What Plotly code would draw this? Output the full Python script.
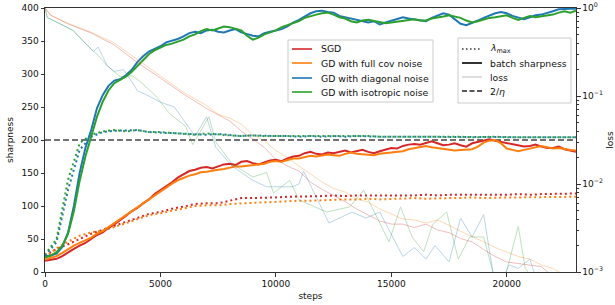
import plotly.graph_objects as go

# ---------------- data ----------------
batch_steps = list(range(0, 23001, 250))
lmax_steps = list(range(0, 23001, 500))

# batch sharpness (solid)
sgd_batch = [17, 18, 20, 24, 30, 35, 40, 44, 50, 56,
             60, 67, 72, 78, 85, 92, 97, 104, 110, 118,
             124, 129, 136, 143, 148, 153, 155, 158, 159, 157,
             160, 163, 164, 162, 167, 168, 165, 163, 166, 169,
             170, 168, 172, 175, 176, 180, 182, 179, 178, 181,
             180, 182, 184, 181, 183, 185, 182, 180, 183, 186,
             188, 187, 191, 193, 194, 193, 196, 198, 195, 192,
             193, 195, 192, 190, 195, 197, 199, 201, 199, 197,
             195, 194, 192, 190, 191, 193, 190, 188, 188, 190,
             186, 184, 182]
full_batch = [19, 21, 24, 29, 35, 40, 44, 48, 52, 58,
              62, 68, 74, 80, 86, 93, 99, 105, 111, 117,
              123, 128, 134, 139, 143, 146, 148, 151, 152, 154,
              155, 156, 158, 160, 160, 161, 162, 163, 164, 167,
              168, 167, 170, 172, 172, 174, 176, 175, 176, 178,
              177, 176, 179, 181, 179, 178, 178, 177, 179, 180,
              181, 182, 183, 186, 188, 190, 191, 189, 188, 187,
              186, 184, 185, 186, 186, 190, 196, 199, 200, 195,
              187, 185, 183, 185, 187, 190, 191, 189, 187, 188,
              186, 185, 184]
diag_batch = [24, 25, 28, 38, 60, 100, 150, 188, 215, 248,
              268, 282, 290, 292, 298, 306, 318, 327, 334, 338,
              342, 348, 350, 353, 357, 362, 364, 362, 366, 367,
              364, 363, 366, 368, 363, 360, 358, 357, 362, 364,
              366, 368, 372, 378, 382, 387, 392, 395, 396, 394,
              393, 388, 386, 383, 381, 379, 378, 380, 375, 378,
              381, 384, 386, 384, 383, 381, 380, 385, 389, 392,
              390, 383, 376, 374, 377, 381, 385, 389, 392, 394,
              392, 388, 385, 383, 386, 389, 390, 392, 395, 398,
              399, 399, 399]
iso_batch = [22, 25, 30, 40, 58, 92, 138, 175, 205, 235,
             258, 275, 286, 291, 296, 303, 312, 322, 330, 336,
             340, 344, 346, 349, 352, 357, 360, 365, 368, 366,
             369, 372, 371, 369, 366, 358, 352, 355, 360, 363,
             366, 371, 374, 376, 380, 385, 388, 390, 392, 393,
             390, 386, 384, 380, 378, 381, 382, 380, 379, 377,
             378, 379, 380, 382, 383, 381, 381, 384, 385, 387,
             389, 387, 385, 381, 378, 380, 383, 385, 386, 388,
             389, 385, 382, 385, 388, 386, 387, 389, 390, 393,
             395, 393, 396]

# lambda_max (dotted)
sgd_lmax = [25, 35, 42, 50, 58, 64, 70, 76, 82, 88, 91, 96, 99, 103, 104, 104, 108, 112, 112, 112,
            113, 114, 114, 115, 115, 116, 115, 116, 116, 115, 115, 116, 116, 117, 116, 117, 117, 117,
            116, 117, 117, 118, 117, 118, 118, 119, 119]
full_lmax = [22, 36, 46, 55, 60, 63, 68, 74, 80, 86, 89, 93, 96, 100, 101, 101, 103, 104, 105, 106,
             106, 107, 108, 108, 109, 109, 110, 110, 111, 110, 111, 111, 112, 111, 112, 112, 112, 113,
             112, 113, 113, 113, 113, 114, 113, 114, 114]
diag_lmax = [25, 45, 125, 185, 205, 212, 214, 214, 215, 212, 211, 211, 210, 209, 208, 209, 207, 206,
             207, 206, 206, 206, 205, 206, 205, 206, 205, 206, 205, 205, 205, 205, 204, 205, 204, 205,
             204, 204, 205, 204, 204, 204, 205, 204, 204, 204, 204]
iso_lmax = [26, 50, 140, 195, 208, 213, 215, 213, 215, 212, 212, 211, 210, 208, 210, 208, 207, 206,
            207, 206, 206, 207, 206, 207, 207, 206, 207, 206, 206, 205, 205, 206, 205, 205, 206, 205,
            205, 204, 205, 205, 204, 204, 205, 204, 204, 204, 204]

# loss (thin, right log axis)
sgd_loss_steps = [0, 250, 1000, 2000, 3000, 4000, 5000, 6000, 7000, 8000, 8500, 9000, 9500, 10000,
                  10500, 11000, 11500, 12000, 12500, 13000, 13500, 14000, 14500, 15000, 15500, 16000,
                  16500, 17000, 17500, 18000, 18500, 19000, 19500, 20000, 21000, 21500, 22000, 23000]
sgd_loss = [1.0, 0.83, 0.66, 0.52, 0.38, 0.24, 0.16, 0.105, 0.072, 0.052, 0.040, 0.032, 0.026, 0.019,
            0.016, 0.014, 0.0105, 0.0087, 0.0074, 0.0063, 0.0052, 0.0044, 0.0038, 0.0035, 0.0035,
            0.0032, 0.0035, 0.0030, 0.0028, 0.0024, 0.0022, 0.0018, 0.0015, 0.0013, 0.0012, 0.00115,
            0.00089, 0.00063]
full_loss_steps = [0, 250, 1000, 2000, 3000, 4000, 5000, 6000, 7000, 7500, 8000, 8500, 9000, 9500,
                   10000, 10500, 11000, 11500, 12000, 12500, 13000, 13500, 14000, 14500, 15000, 15500,
                   16000, 16500, 17000, 17500, 18000, 18500, 19000, 19500, 20000, 20500, 21000, 21500,
                   22000, 22400, 23000]
full_loss = [1.0, 0.82, 0.67, 0.53, 0.40, 0.26, 0.17, 0.11, 0.078, 0.062, 0.056, 0.048, 0.036, 0.031,
             0.024, 0.020, 0.016, 0.013, 0.0105, 0.0089, 0.0081, 0.0068, 0.0062, 0.0052, 0.0046, 0.0040,
             0.0039, 0.0036, 0.0039, 0.0034, 0.0029, 0.0025, 0.0022, 0.0019, 0.0017, 0.0015, 0.0014,
             0.0012, 0.0011, 0.00095, 0.0008]
diag_loss_steps = [0, 100, 1200, 1800, 2100, 2300, 2700, 3000, 3400, 3800, 4000, 4500, 5000, 5600,
                   6200, 6500, 7000, 7400, 8100, 9000, 9600, 10700, 11000, 11200, 12300, 13300, 13900,
                   14500, 15500, 16000, 16500, 16900, 17500, 18000, 18500, 19000, 19400, 19800, 20100,
                   20500, 21000, 21300, 21800]
diag_loss = [1.0, 0.78, 0.56, 0.38, 0.32, 0.36, 0.22, 0.19, 0.20, 0.14, 0.115, 0.10, 0.085, 0.075,
             0.045, 0.035, 0.058, 0.026, 0.016, 0.011, 0.0093, 0.0093, 0.010, 0.014, 0.0036, 0.0048,
             0.0041, 0.0048, 0.0015, 0.0019, 0.0014, 0.0020, 0.0013, 0.0041, 0.0025, 0.0045, 0.0010,
             0.0008, 0.0012, 0.0011, 0.0014, 0.0008, 0.0009]
iso_loss_steps = [0, 100, 1200, 1900, 2300, 2700, 3250, 3800, 4200, 4800, 5400, 6100, 6400, 7100,
                  7400, 8100, 9000, 9600, 9900, 10600, 11000, 12200, 13200, 13800, 14900, 15400, 15900,
                  16400, 16800, 17400, 17900, 18400, 19000, 19400, 19800, 20100, 20500, 20800, 21200,
                  21500, 22000]
iso_loss = [1.0, 0.78, 0.56, 0.36, 0.29, 0.22, 0.166, 0.17, 0.14, 0.10, 0.063, 0.045, 0.028, 0.058,
            0.030, 0.017, 0.012, 0.0135, 0.0079, 0.011, 0.0066, 0.0048, 0.0055, 0.0085, 0.0022, 0.0055,
            0.0025, 0.0017, 0.0035, 0.0048, 0.0014, 0.0025, 0.0025, 0.0010, 0.0007, 0.0013, 0.0033,
            0.0011, 0.0008, 0.0009, 0.0007]

eta = 0.01
two_over_eta = 2 / eta

names = ["SGD", "GD with full cov noise", "GD with diagonal noise", "GD with isotropic noise"]
colors = ["#d62728", "#ff7f0e", "#1f77b4", "#2ca02c"]
batch = [sgd_batch, full_batch, diag_batch, iso_batch]
lmax = [sgd_lmax, full_lmax, diag_lmax, iso_lmax]
loss_x = [sgd_loss_steps, full_loss_steps, diag_loss_steps, iso_loss_steps]
loss_y = [sgd_loss, full_loss, diag_loss, iso_loss]

style_names = ["<i>λ</i><sub>max</sub>", "batch sharpness", "loss", "2/<i>η</i>"]

log_ticks = [1e-3, 1e-2, 1e-1, 1e0]
log_tick_text = ["10<sup>−3</sup>", "10<sup>−2</sup>", "10<sup>−1</sup>", "10<sup>0</sup>"]
x_ticks = [0, 5000, 10000, 15000, 20000]
x_tick_text = ["0", "5000", "10000", "15000", "20000"]
y_ticks = [0, 50, 100, 150, 200, 250, 300, 350, 400]

# ---------------- layout geometry ----------------
W, H = 615, 305
L, R, T, B = 45, 39, 8, 33
PW, PH = W - L - R, H - T - B


def px_x(x):
    return (x - L) / PW


def px_y(y):
    return (H - B - y) / PH


# ---------------- figure ----------------
fig = go.Figure()

fig.add_trace(go.Scatter(x=[batch_steps[0], batch_steps[-1]], y=[two_over_eta, two_over_eta],
                         mode="lines", line=dict(color="#444444", width=1.5, dash="6px,3px"),
                         showlegend=False, hoverinfo="skip"))

for i in range(4):
    fig.add_trace(go.Scatter(x=loss_x[i], y=loss_y[i], mode="lines", yaxis="y2",
                             line=dict(color=colors[i], width=1), opacity=0.3,
                             showlegend=False, hoverinfo="skip"))

for i in range(4):
    fig.add_trace(go.Scatter(x=lmax_steps, y=lmax[i], mode="lines",
                             line=dict(color=colors[i], width=2, dash="2px,3px"),
                             showlegend=False))

for i in range(4):
    fig.add_trace(go.Scatter(x=batch_steps, y=batch[i], mode="lines", name=names[i],
                             line=dict(color=colors[i], width=2), showlegend=False))

# ---------------- legends (drawn as shapes + annotations) ----------------
shapes = []
annotations = []
leg_font = dict(family="DejaVu Sans", size=9.3, color="#111")

shapes.append(dict(type="rect", xref="paper", yref="paper", x0=px_x(288), x1=px_x(433),
                   y0=px_y(102), y1=px_y(40), fillcolor="rgba(255,255,255,0.85)",
                   line=dict(color="#cccccc", width=1), layer="above"))
rows1 = [49, 63, 78, 92]
for i in range(4):
    shapes.append(dict(type="line", xref="paper", yref="paper", x0=px_x(292), x1=px_x(312),
                       y0=px_y(rows1[i]), y1=px_y(rows1[i]),
                       line=dict(color=colors[i], width=1.6), layer="above"))
    annotations.append(dict(xref="paper", yref="paper", x=px_x(319), y=px_y(rows1[i]),
                            text=names[i], showarrow=False, xanchor="left", yanchor="middle",
                            font=leg_font))

shapes.append(dict(type="rect", xref="paper", yref="paper", x0=px_x(458), x1=px_x(571),
                   y0=px_y(103), y1=px_y(38), fillcolor="rgba(255,255,255,0.85)",
                   line=dict(color="#cccccc", width=1), layer="above"))
rows2 = [49, 63, 77, 91]
style_lines = [dict(color="#333", width=1.5, dash="1.5px,2.5px"),
               dict(color="#333", width=2),
               dict(color="#bbbbbb", width=1),
               dict(color="#222", width=1.5, dash="5px,2.5px")]
for i in range(4):
    shapes.append(dict(type="line", xref="paper", yref="paper", x0=px_x(462), x1=px_x(482),
                       y0=px_y(rows2[i]), y1=px_y(rows2[i]), line=style_lines[i], layer="above"))
    annotations.append(dict(xref="paper", yref="paper", x=px_x(488), y=px_y(rows2[i]),
                            text=style_names[i], showarrow=False, xanchor="left", yanchor="middle",
                            font=leg_font))

axis_font = dict(family="DejaVu Sans", size=9, color="#111")

fig.update_layout(
    width=W, height=H,
    margin=dict(l=L, r=R, t=T, b=B, pad=0, autoexpand=False),
    plot_bgcolor="white", paper_bgcolor="white",
    font=dict(family="DejaVu Sans", size=9, color="#111"),
    showlegend=False,
    shapes=shapes,
    annotations=annotations,
    xaxis=dict(range=[0, 23000], tickvals=x_ticks, ticktext=x_tick_text, ticks="outside", ticklen=3.5,
               tickcolor="#333", showline=True, linecolor="#333", linewidth=1, mirror=True,
               showgrid=False, zeroline=False, tickfont=axis_font,
               title=dict(text="steps", font=axis_font, standoff=4)),
    yaxis=dict(range=[0, 400], tickvals=y_ticks, ticks="outside", ticklen=3.5, tickcolor="#333",
               showline=True, linecolor="#333", linewidth=1, showgrid=False, zeroline=False,
               tickfont=axis_font, title=dict(text="sharpness", font=axis_font, standoff=6)),
    yaxis2=dict(type="log", range=[-3, 0], overlaying="y", side="right",
                tickvals=log_ticks, ticktext=log_tick_text, ticks="outside", ticklen=3.5,
                tickcolor="#333", showline=True, linecolor="#333", linewidth=1, showgrid=False,
                zeroline=False, tickfont=axis_font,
                minor=dict(ticks="outside", ticklen=2, tickcolor="#333",
                           tickvals=[2e-3, 3e-3, 4e-3, 5e-3, 6e-3, 7e-3, 8e-3, 9e-3,
                                     2e-2, 3e-2, 4e-2, 5e-2, 6e-2, 7e-2, 8e-2, 9e-2,
                                     2e-1, 3e-1, 4e-1, 5e-1, 6e-1, 7e-1, 8e-1, 9e-1]),
                title=dict(text="loss", font=axis_font, standoff=4)),
)

fig.write_html("out.html", config={"displayModeBar": False},
               post_script="document.body.style.margin='0';")
